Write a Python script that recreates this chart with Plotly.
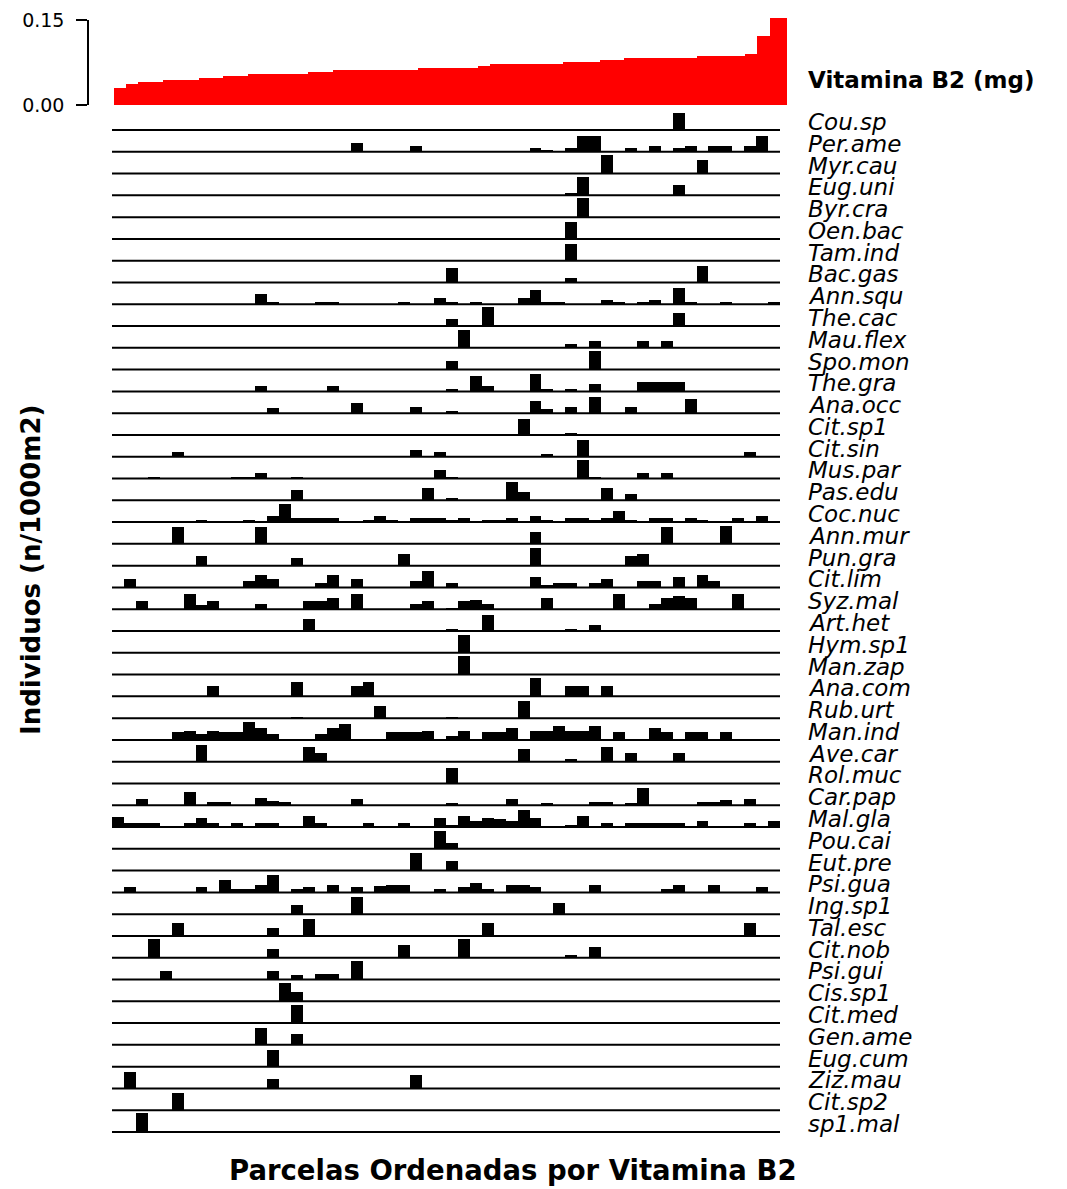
import plotly.graph_objects as go

# ---------------- data ----------------
# Vitamina B2 (mg) per plot, plots ordered by vitamin B2 (56 plots)
vit_b2 = [0.030, 0.036, 0.040, 0.040, 0.043, 0.043, 0.043, 0.047, 0.047, 0.050,
          0.050, 0.054, 0.054, 0.054, 0.054, 0.054, 0.057, 0.057, 0.061, 0.061,
          0.061, 0.061, 0.061, 0.061, 0.061, 0.064, 0.064, 0.064, 0.064, 0.064,
          0.068, 0.071, 0.071, 0.071, 0.071, 0.071, 0.071, 0.075, 0.075, 0.075,
          0.078, 0.078, 0.082, 0.082, 0.082, 0.082, 0.082, 0.082, 0.086, 0.086,
          0.086, 0.086, 0.089, 0.121, 0.153, 0.153]

species = ["Cou.sp", "Per.ame", "Myr.cau", "Eug.uni", "Byr.cra", "Oen.bac", "Tam.ind",
           "Bac.gas", "Ann.squ", "The.cac", "Mau.flex", "Spo.mon", "The.gra", "Ana.occ",
           "Cit.sp1", "Cit.sin", "Mus.par", "Pas.edu", "Coc.nuc", "Ann.mur", "Pun.gra",
           "Cit.lim", "Syz.mal", "Art.het", "Hym.sp1", "Man.zap", "Ana.com", "Rub.urt",
           "Man.ind", "Ave.car", "Rol.muc", "Car.pap", "Mal.gla", "Pou.cai", "Eut.pre",
           "Psi.gua", "Ing.sp1", "Tal.esc", "Cit.nob", "Psi.gui", "Cis.sp1", "Cit.med",
           "Gen.ame", "Eug.cum", "Ziz.mau", "Cit.sp2", "sp1.mal"]

# plot index (0..55) where each species occurs
plot_idx = [
    [47],
    [20, 25, 35, 36, 38, 39, 40, 43, 45, 47, 48, 50, 51, 53, 54],
    [41, 49],
    [38, 39, 47],
    [39],
    [38],
    [38],
    [28, 38, 49],
    [12, 13, 17, 18, 24, 27, 28, 30, 34, 35, 36, 37, 41, 42, 44, 45, 47, 48, 51, 55],
    [28, 31, 47],
    [29, 38, 40, 44, 46],
    [28, 40],
    [12, 18, 28, 30, 31, 35, 36, 38, 40, 44, 45, 46, 47],
    [13, 20, 25, 28, 35, 36, 38, 40, 43, 48],
    [34, 38],
    [5, 25, 27, 36, 39, 53],
    [3, 10, 11, 12, 15, 27, 28, 39, 40, 44, 46],
    [15, 26, 28, 33, 34, 41, 43],
    [7, 11, 13, 14, 15, 16, 17, 18, 21, 22, 23, 25, 26, 27, 28, 29, 31, 32, 33, 35,
     36, 38, 39, 40, 41, 42, 43, 45, 46, 48, 49, 52, 54],
    [5, 12, 35, 46, 51],
    [7, 15, 24, 35, 43, 44],
    [1, 11, 12, 13, 17, 18, 20, 25, 26, 28, 35, 36, 37, 38, 40, 41, 44, 45, 47, 49, 50],
    [2, 6, 7, 8, 12, 16, 17, 18, 20, 25, 26, 28, 29, 30, 31, 36, 42, 45, 46, 47, 48, 52],
    [16, 28, 31, 38, 40],
    [29],
    [29],
    [8, 15, 20, 21, 35, 38, 39, 41],
    [15, 22, 28, 34],
    [5, 6, 7, 8, 9, 10, 11, 12, 13, 17, 18, 19, 23, 24, 25, 26, 28, 29, 31, 32, 33,
     35, 36, 37, 38, 39, 40, 42, 45, 46, 48, 49, 51],
    [7, 16, 17, 34, 38, 41, 43, 47],
    [28],
    [2, 6, 8, 9, 12, 13, 14, 20, 28, 33, 36, 40, 41, 43, 44, 49, 50, 51, 53],
    [0, 1, 2, 3, 6, 7, 8, 10, 12, 13, 16, 17, 21, 24, 27, 28, 29, 30, 31, 32, 33, 34,
     35, 38, 39, 41, 43, 44, 45, 46, 47, 49, 53, 55],
    [27, 28],
    [25, 28],
    [1, 7, 9, 10, 11, 12, 13, 15, 16, 18, 20, 22, 23, 24, 27, 29, 30, 31, 33, 34, 35,
     40, 46, 47, 50, 54],
    [15, 20, 37],
    [5, 13, 16, 31, 53],
    [3, 13, 24, 29, 38, 40],
    [4, 13, 15, 17, 18, 20],
    [14, 15],
    [15],
    [12, 15],
    [13],
    [1, 13, 25],
    [5],
    [2],
]

# relative abundance (individuos/1000 m2, relative units)
dens = [
    [50],
    [25, 18, 12, 6, 12, 48, 48, 12, 18, 12, 18, 18, 18, 18, 48],
    [55, 42],
    [6, 56, 31],
    [57],
    [50],
    [50],
    [43, 13, 50],
    [31, 6, 6, 6, 6, 18, 6, 6, 18, 43, 6, 6, 13, 6, 6, 13, 48, 6, 6, 6],
    [22, 57, 38],
    [55, 13, 20, 20, 20],
    [25, 55],
    [16, 16, 8, 45, 16, 51, 8, 8, 21, 27, 27, 27, 27],
    [15, 32, 20, 7, 37, 14, 20, 50, 20, 44],
    [49, 7],
    [13, 20, 13, 8, 50, 13],
    [6, 6, 6, 18, 6, 25, 6, 55, 6, 18, 18],
    [32, 37, 7, 55, 25, 37, 20],
    [7, 7, 19, 54, 12, 12, 12, 12, 7, 19, 7, 12, 12, 12, 7, 12, 7, 7, 12, 19,
     7, 12, 12, 7, 12, 32, 7, 12, 12, 12, 7, 12, 19],
    [50, 50, 35, 50, 55],
    [30, 23, 35, 53, 30, 35],
    [25, 20, 37, 25, 14, 37, 25, 20, 50, 14, 32, 7, 14, 14, 14, 25, 20, 20, 32, 37, 20],
    [24, 47, 12, 24, 17, 24, 24, 35, 47, 17, 24, 5, 24, 29, 17, 35, 47, 17, 35, 40, 35, 47],
    [36, 6, 48, 6, 18],
    [53],
    [55],
    [30, 42, 30, 42, 54, 30, 30, 30],
    [4, 36, 4, 53],
    [23, 28, 18, 28, 23, 23, 53, 35, 18, 18, 35, 48, 23, 23, 23, 28, 11, 28, 23, 23, 35,
     28, 28, 41, 28, 28, 41, 23, 35, 23, 23, 23, 23],
    [49, 44, 25, 37, 7, 44, 25, 25],
    [47],
    [18, 41, 11, 11, 23, 13, 11, 18, 6, 18, 6, 11, 11, 6, 53, 11, 11, 15, 18],
    [31, 11, 11, 11, 11, 26, 11, 11, 11, 11, 33, 11, 11, 11, 26, 5, 33, 18, 26, 23, 18, 51,
     26, 5, 33, 11, 11, 11, 11, 11, 11, 18, 11, 18],
    [55, 19],
    [54, 29],
    [16, 16, 36, 10, 10, 23, 53, 10, 16, 23, 16, 18, 23, 23, 10, 16, 28, 10, 23, 23, 16,
     23, 10, 23, 23, 16],
    [28, 51, 33],
    [38, 25, 50, 38, 38],
    [55, 25, 37, 55, 7, 32],
    [25, 25, 13, 18, 18, 55],
    [55, 27],
    [53],
    [52, 33],
    [50],
    [50, 27, 39],
    [51],
    [58],
]

# ---------------- figure ----------------
W, H = 1067, 1189
ROW_UNIT = 65.5  # bar-height units per row spacing

def fx(p):
    return p / W

def fy(p):
    return 1 - p / H

n_plots = len(vit_b2)
n_sp = len(species)

fig = go.Figure()

# top panel: vitamin B2
fig.add_trace(go.Bar(
    x=list(range(n_plots)), y=vit_b2, width=1,
    marker=dict(color="#FF0000", line=dict(width=0)),
    xaxis="x2", yaxis="y2", hoverinfo="skip"))

# axis carrier (for the 0.00 - 0.15 axis)
fig.add_trace(go.Scatter(x=[0], y=[0], mode="markers", marker=dict(opacity=0),
                         xaxis="x2", yaxis="y3", hoverinfo="skip"))

# species bars
bx, by, bb = [], [], []
for i, (cols, vals) in enumerate(zip(plot_idx, dens)):
    for c, v in zip(cols, vals):
        bx.append(c)
        by.append(v / ROW_UNIT)
        bb.append(-i)
fig.add_trace(go.Bar(
    x=bx, y=by, base=bb, width=1,
    marker=dict(color="black", line=dict(width=0)),
    xaxis="x", yaxis="y", hoverinfo="skip"))

# baselines for each species
lx, ly = [], []
for i in range(n_sp):
    lx += [-0.5, n_plots - 0.5, None]
    ly += [-i, -i, None]
fig.add_trace(go.Scatter(x=lx, y=ly, mode="lines",
                         line=dict(color="black", width=2),
                         xaxis="x", yaxis="y", hoverinfo="skip"))

hidden = dict(visible=False, showgrid=False, zeroline=False, automargin=False)

# top panel column width (px) is slightly larger than in the species panel
top_col_px = 12.14
top_left, top_right = 114, 787

fig.update_layout(
    width=W, height=H, autosize=False,
    margin=dict(l=0, r=0, t=0, b=0, pad=0, autoexpand=False),
    paper_bgcolor="white", plot_bgcolor="rgba(0,0,0,0)",
    showlegend=False, bargap=0,
    xaxis=dict(domain=[fx(112), fx(780)], range=[-0.5, n_plots - 0.5], anchor="y", **hidden),
    yaxis=dict(domain=[fy(1140), fy(108)],
               range=[-(n_sp - 1) - 8 / 21.78, (130 - 108) / 21.78], anchor="x", **hidden),
    xaxis2=dict(domain=[fx(top_left), fx(top_right)],
                range=[-0.5, -0.5 + (top_right - top_left) / top_col_px],
                anchor="y2", **hidden),
    yaxis2=dict(domain=[fy(105), fy(105 - 0.158 / 0.15 * 85)], range=[0, 0.158],
                anchor="x2", **hidden),
    yaxis3=dict(domain=[fy(105), fy(20)], range=[0, 0.15], anchor="free", position=fx(88),
                showline=True, linecolor="black", linewidth=1.5,
                ticks="outside", ticklen=11, tickwidth=1.5, tickcolor="black",
                tickvals=[0, 0.15], ticktext=["0.00", "0.15"],
                tickfont=dict(family="DejaVu Sans", size=19, color="black"),
                ticklabelstandoff=8, automargin=False,
                showgrid=False, zeroline=False),
    font=dict(family="DejaVu Sans", color="black"),
)

annotations = []
annotations.append(dict(text="<b>Vitamina B2 (mg)</b>", x=fx(806), y=fy(80),
                        xref="paper", yref="paper", xanchor="left", yanchor="middle",
                        showarrow=False, font=dict(size=23, family="DejaVu Sans")))
for i, name in enumerate(species):
    annotations.append(dict(text="<i>" + name + "</i>", x=fx(806), y=-i + 0.37,
                            xref="paper", yref="y", xanchor="left", yanchor="middle",
                            showarrow=False, font=dict(size=23, family="DejaVu Sans")))
annotations.append(dict(text="<b>Parcelas Ordenadas por Vitamina B2</b>", x=fx(513), y=fy(1170),
                        xref="paper", yref="paper", xanchor="center", yanchor="middle",
                        showarrow=False, font=dict(size=27.5, family="DejaVu Sans")))
annotations.append(dict(text="<b>Individuos (n/1000m2)</b>", x=fx(31), y=fy(570),
                        xref="paper", yref="paper", xanchor="center", yanchor="middle",
                        textangle=-90, showarrow=False,
                        font=dict(size=26, family="DejaVu Sans")))
fig.update_layout(annotations=annotations)

page_fix = (
    "document.body.style.margin='0';document.body.style.padding='0';"
    "document.body.style.overflow='hidden';"
)

fig.write_html("out.html", config={"displayModeBar": False}, post_script=page_fix)
